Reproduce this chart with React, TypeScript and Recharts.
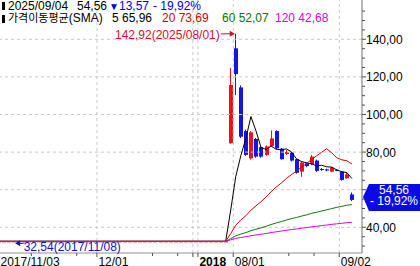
import { ComposedChart, Bar, Line, XAxis, YAxis, ReferenceLine, ReferenceDot } from 'recharts';

// suspended stretch: every price equal
const flatDates = [
  '2017/11/03', '2017/11/06', '2017/11/07', '2017/11/08', '2017/11/09', '2017/11/10',
  '2017/11/13', '2017/11/14', '2017/11/15', '2017/11/16', '2017/11/17',
  '2017/11/20', '2017/11/21', '2017/11/22', '2017/11/23', '2017/11/24',
  '2017/11/27', '2017/11/28', '2017/11/29', '2017/11/30',
  '2017/12/01', '2017/12/04', '2017/12/05', '2017/12/06', '2017/12/07', '2017/12/08',
  '2017/12/11', '2017/12/12', '2017/12/13', '2017/12/14', '2017/12/15',
  '2017/12/18', '2017/12/19', '2017/12/20', '2017/12/21', '2017/12/22',
  '2017/12/26', '2017/12/27', '2017/12/28',
  '2018/01/02', '2018/01/03', '2018/01/04', '2018/01/05', '2018/01/08', '2018/01/09', '2018/01/10',
];
const flatPrice = 32.54;

const tradeDates = [
  '2025/07/31', '2025/08/01', '2025/08/04', '2025/08/05', '2025/08/06', '2025/08/07', '2025/08/08',
  '2025/08/11', '2025/08/12', '2025/08/13', '2025/08/14', '2025/08/18', '2025/08/19', '2025/08/20',
  '2025/08/21', '2025/08/22', '2025/08/25', '2025/08/26', '2025/08/27', '2025/08/28', '2025/08/29',
  '2025/09/01', '2025/09/02', '2025/09/03', '2025/09/04',
];
const opens = [84.7, 135.2, 114.4, 91.2, 76.7, 87.0, 82.6, 78.5, 83.2, 91.2, 81.8, 79.0, 79.7, 76.2, 69.6, 74.0, 73.5, 75.5, 71.0, 70.8, 69.6, 70.6, 69.6, 66.1, 57.5];
const highs = [124.7, 142.92, 115.5, 92.0, 91.2, 87.5, 83.0, 83.6, 91.5, 91.6, 82.2, 81.0, 80.0, 76.5, 75.0, 74.5, 78.5, 76.0, 71.5, 71.2, 72.0, 70.9, 70.0, 69.0, 58.5];
const lows = [84.5, 110.4, 87.5, 78.0, 76.0, 77.0, 77.0, 78.0, 83.0, 81.5, 76.0, 78.5, 75.0, 68.5, 66.9, 72.0, 73.0, 69.5, 70.0, 69.8, 69.3, 69.8, 64.8, 65.8, 54.0];
const closes = [115.7, 121.5, 88.2, 78.5, 90.5, 77.6, 77.6, 83.0, 87.3, 82.0, 76.2, 80.0, 75.5, 69.0, 74.4, 72.6, 77.6, 70.0, 70.6, 70.2, 71.7, 70.2, 65.2, 68.13, 54.56];

const ma5 = [49.2, 67.0, 78.1, 87.3, 98.9, 91.3, 82.5, 81.4, 83.2, 81.5, 81.2, 81.7, 80.2, 76.5, 75.0, 74.3, 73.8, 72.7, 73.0, 72.2, 72.0, 70.5, 69.6, 69.1, 65.96];
const ma20 = [36.7, 41.1, 43.9, 46.2, 49.1, 51.4, 53.6, 56.1, 58.9, 61.4, 63.5, 65.9, 68.0, 69.8, 71.9, 73.9, 76.1, 78.0, 79.9, 81.8, 79.6, 77.0, 75.9, 75.4, 73.69];
const ma60 = [33.95, 35.45, 36.4, 37.2, 38.2, 38.95, 39.7, 40.55, 41.5, 42.3, 43.05, 43.85, 44.6, 45.2, 45.95, 46.6, 47.4, 48.0, 48.65, 49.3, 49.95, 50.6, 51.15, 51.75, 52.07];
const ma120 = [33.3, 34.1, 34.6, 35.0, 35.5, 35.9, 36.3, 36.7, 37.2, 37.6, 38.0, 38.4, 38.8, 39.1, 39.5, 39.85, 40.25, 40.55, 40.9, 41.2, 41.55, 41.85, 42.15, 42.45, 42.68];

const priceGrid = [40, 60, 80, 100, 120, 140];
const priceTicks = [30, 35, 40, 45, 50, 55, 60, 65, 70, 75, 80, 85, 90, 95, 100, 105, 110, 115, 120, 125, 130, 135, 140, 145, 150, 155];
const gridDates = ['2017/12/01', '2018/01/02', '2018/01/03', '2025/08/01', '2025/09/02'];
const dateLabels: Record<string, string> = { '2017/12/01': '12/01', '2018/01/03': '2018', '2025/08/01': '08/01', '2025/09/02': '09/02' };
const minorDates = ['2017/11/14', '2017/11/27', '2017/12/18', '2017/12/26', '2025/08/19', '2025/08/26'];
const firstLabel = '2017/11/03';
const highMark = { date: '2025/08/01', price: 142.92 };
const lowMark = { date: '2017/11/08', price: 32.54 };

const RED = '#e8141c';
const BLUE = '#1414e6';
const FONT = '"Liberation Sans", Arial, "Noto Sans CJK KR", sans-serif';

const dates = [...flatDates, ...tradeDates];
const nFlat = flatDates.length;
const data = dates.map((date, i) => {
  const k = i - nFlat;
  const flat = k < 0;
  const open = flat ? flatPrice : opens[k];
  const high = flat ? flatPrice : highs[k];
  const low = flat ? flatPrice : lows[k];
  const close = flat ? flatPrice : closes[k];
  return {
    i, date, open, high, low, close,
    ma5: flat ? flatPrice : ma5[k],
    ma20: flat ? flatPrice : ma20[k],
    ma60: flat ? flatPrice : ma60[k],
    ma120: flat ? flatPrice : ma120[k],
  };
});

const slot = (d: string) => dates.indexOf(d) - 0.5;
const X_MIN = 0.3;
const X_MAX = 72;
const gridX = gridDates.map(slot);
const minorX = minorDates.map(slot);
const labelAt = new Map<number, string>(Object.entries(dateLabels).map(([d, t]) => [slot(d), t]));
const xTicks = [X_MIN, ...gridX, ...minorX].sort((a, b) => a - b);

const fmt = (v: number) => v.toFixed(2).replace('.', ',');
const last = data[data.length - 1];
const prev = data[data.length - 2];
const change = last.close - prev.close;
const pct = (change / prev.close) * 100;

const Candle = (props: any) => {
  const { x, y, width, height, payload } = props;
  if (x == null || y == null || !payload) return null;
  const { open, close, high, low } = payload;
  const cx = x + width / 2;
  const span = high - low;
  const toY = (v: number) => (span === 0 ? y : y + ((high - v) / span) * height);
  const color = close >= open ? RED : BLUE;
  const top = toY(Math.max(open, close));
  const bot = toY(Math.min(open, close));
  const bx = Math.round(cx - 2);
  return (
    <g>
      <line x1={bx + 1.5} x2={bx + 1.5} y1={toY(high)} y2={toY(low)} stroke={color} strokeWidth={1} />
      <rect x={bx} y={top} width={4} height={Math.max(1, bot - top)} fill={color} />
    </g>
  );
};

// the last-price box sits over the axis; labels under it are not drawn
const PriceTick = ({ x, y, payload }: any) => {
  const v = payload.value;
  const major = v % 20 === 0;
  const covered = Math.abs(v - last.close) < 9;
  return (
    <g>
      <line x1={x} x2={x + (major ? 4 : 3)} y1={y} y2={y} stroke="#505050" />
      {major && !covered && (
        <text x={x + 4} y={y + 4.5} fontSize={12} fontFamily={FONT} fill="#000">{fmt(v)}</text>
      )}
    </g>
  );
};

const DateTick = ({ x, y, payload }: any) => {
  const v = payload.value;
  if (v === X_MIN) {
    return <text x={0.5} y={y + 13} fontSize={12} fontFamily={FONT} fill="#000">{firstLabel}</text>;
  }
  const label = labelAt.get(v);
  const minor = minorX.includes(v);
  return (
    <g>
      <line x1={x} x2={x} y1={y} y2={y + (minor ? 3 : 4)} stroke="#505050" />
      {label && (
        <text x={x + 1.5} y={y + 13} fontSize={12} fontFamily={FONT} fill="#000"
          fontWeight={label === '2018' ? 'bold' : 'normal'}>{label}</text>
      )}
    </g>
  );
};

const HighLabel = ({ cx, cy }: any) => (
  <g>
    <text x={cx - 16} y={cy + 5} textAnchor="end" fontSize={12} fontFamily={FONT} fill="#d01030">
      {`${fmt(highMark.price)}(${highMark.date})`}
    </text>
    <line x1={cx - 15} x2={cx - 3} y1={cy} y2={cy} stroke="#d01030" />
    <path d={`M${cx - 1},${cy} l-5,-3 v6 z`} fill="#d01030" />
  </g>
);

const LowLabel = ({ cx, cy }: any) => (
  <g>
    <path d={`M${cx + 1.5},${cy + 2} l5,-3 v6 z`} fill="#1010c0" />
    <line x1={cx + 4} x2={cx + 10} y1={cy + 2} y2={cy + 2} stroke="#1010c0" />
    <text x={cx + 10} y={cy + 9.5} fontSize={12} fontFamily={FONT} fill="#1010c0">
      {`${fmt(lowMark.price)}(${lowMark.date})`}
    </text>
  </g>
);

const LastBox = ({ cy }: any) => (
  <g>
    <path d={`M363,${cy - 3} L369,${cy - 16} L420,${cy - 16} L420,${cy + 11} L369,${cy + 11} Z`} fill="#0a0ae6" />
    <text x={394} y={cy - 6} textAnchor="middle" fontSize={12} fontFamily={FONT} fill="#fff">{fmt(last.close)}</text>
    <text x={394} y={cy + 5} textAnchor="middle" fontSize={12} fontFamily={FONT} fill="#fff">
      {`- ${fmt(Math.abs(pct))}%`}
    </text>
  </g>
);

export default function App() {
  return (
    <div style={{ position: 'absolute', left: 0, top: 0, width: 420, height: 266, background: '#fff', overflow: 'hidden' }}>
      <ComposedChart width={420} height={266} data={data} margin={{ top: 0, right: 0, bottom: 0, left: 0 }}>
        <XAxis
          dataKey="i" type="number" domain={[X_MIN, X_MAX]} allowDataOverflow
          ticks={xTicks} interval={0} height={13} tickSize={0} tickMargin={0}
          tick={<DateTick />} stroke="#909090"
        />
        <YAxis
          orientation="right" type="number" domain={[26.33, 160.9]} allowDataOverflow
          ticks={priceTicks} interval={0} width={58} tickSize={0} tickMargin={0}
          tick={<PriceTick />} stroke="#707070"
        />
        {priceGrid.map((v) => (
          <ReferenceLine key={`h${v}`} y={v} stroke="#c8c8c8" strokeDasharray="3 3" />
        ))}
        {gridX.map((v) => (
          <ReferenceLine key={`v${v}`} x={v} stroke="#c8c8c8" strokeDasharray="3 3" />
        ))}
        <Bar dataKey={(d: any) => [d.low, d.high]} barSize={4} shape={<Candle />} isAnimationActive={false} />
        <Line dataKey="ma5" stroke="#000" strokeWidth={1} dot={false} isAnimationActive={false} />
        <Line dataKey="ma20" stroke="#d00000" strokeWidth={1} dot={false} isAnimationActive={false} />
        <Line dataKey="ma60" stroke="#0a7a0a" strokeWidth={1} dot={false} isAnimationActive={false} />
        <Line dataKey="ma120" stroke="#e000e0" strokeWidth={1} dot={false} isAnimationActive={false} />
        <ReferenceDot x={dates.indexOf(highMark.date)} y={highMark.price} shape={<HighLabel />} />
        <ReferenceDot x={dates.indexOf(lowMark.date)} y={lowMark.price} shape={<LowLabel />} />
        <ReferenceDot x={last.i} y={last.close} shape={<LastBox />} />
      </ComposedChart>

      <svg width={420} height={266} style={{ position: 'absolute', left: 0, top: 0, pointerEvents: 'none' }}
        fontFamily={FONT} fontSize={12}>
        <rect x={2} y={2} width={3} height={8} fill="#000" />
        <text x={8} y={9.5} fill="#000">{last.date}</text>
        <text x={77} y={9.5} fill="#000">{fmt(last.close)}</text>
        <text x={109} y={9.5} fill="#0000e0" fontSize={10}>▼</text>
        <text x={119} y={9.5} fill="#0000e0">{fmt(Math.abs(change))}</text>
        <text x={153} y={9.5} fill="#0000e0">{`- ${fmt(Math.abs(pct))}%`}</text>

        <rect x={2} y={15} width={3} height={8} fill="#000" />
        <text x={8} y={22} fill="#000"><tspan fontSize={11}>가격이동평균</tspan>(SMA)</text>
        <text x={112} y={22} fill="#000">{`5 ${fmt(last.ma5)}`}</text>
        <text x={162} y={22} fill="#d00000">{`20 ${fmt(last.ma20)}`}</text>
        <text x={222} y={22} fill="#007800">{`60 ${fmt(last.ma60)}`}</text>
        <text x={275} y={22} fill="#e000e0">{`120 ${fmt(last.ma120)}`}</text>
      </svg>
    </div>
  );
}
